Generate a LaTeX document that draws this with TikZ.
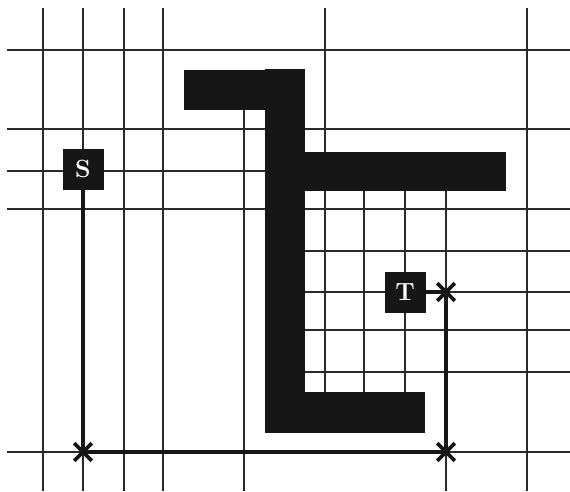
\documentclass[tikz,border=0pt]{standalone}
\usepackage{fontspec}
\usetikzlibrary{shapes.misc}
\definecolor{mazeInk}{HTML}{161616}
\definecolor{mazeGrid}{HTML}{2A2A2A}
\tikzset{gridline/.style={draw=mazeGrid,line width=1.2pt},block/.style={fill=mazeInk},padbox/.style={fill=mazeInk,text=white,font=\Huge\bfseries,minimum size=41pt,inner sep=0pt},wirepath/.style={draw=mazeInk,line width=3.4pt},xmark/.style={cross out,draw=mazeInk,line width=3.6pt,minimum size=14pt,inner sep=0pt}}

\begin{document}
\begin{tikzpicture}[x=1pt,y=-1pt]
\useasboundingbox[fill=white] (0,0) rectangle (570,491);
% routing grid
\draw[gridline] (43,8) -- (43,491); \draw[gridline] (83,8) -- (83,491);
\draw[gridline] (124,8) -- (124,491); \draw[gridline] (163,8) -- (163,491);
\draw[gridline] (244,110) -- (244,491); \draw[gridline] (325,8) -- (325,392);
\draw[gridline] (364,191) -- (364,392); \draw[gridline] (405,191) -- (405,392);
\draw[gridline] (446,191) -- (446,491); \draw[gridline] (527,8) -- (527,491);
\draw[gridline] (7,50) -- (570,50); \draw[gridline] (7,129) -- (570,129);
\draw[gridline] (7,171) -- (265,171); \draw[gridline] (7,209) -- (570,209);
\draw[gridline] (305,251) -- (570,251); \draw[gridline] (305,292) -- (570,292);
\draw[gridline] (305,330) -- (570,330); \draw[gridline] (305,372) -- (570,372);
\draw[gridline] (7,452) -- (570,452);
% obstacles
\path[block] (184,70) rectangle (265,110);
\path[block] (265,69) rectangle (305,433);
\path[block] (305,152) rectangle (506,191);
\path[block] (305,392) rectangle (425,433);
% terminals and route
\node[padbox] (S) at (83,169) {S};
\node[padbox] (T) at (405,292) {T};
\coordinate (b1) at (83,452);
\coordinate (b2) at (446,452);
\coordinate (b3) at (446,292);
\draw[wirepath] (S.south) -- (b1) -- (b2) -- (b3) -- (T.east);
\node[xmark] at (b1) {}; \node[xmark] at (b2) {}; \node[xmark] at (b3) {};
\end{tikzpicture}
\end{document}
